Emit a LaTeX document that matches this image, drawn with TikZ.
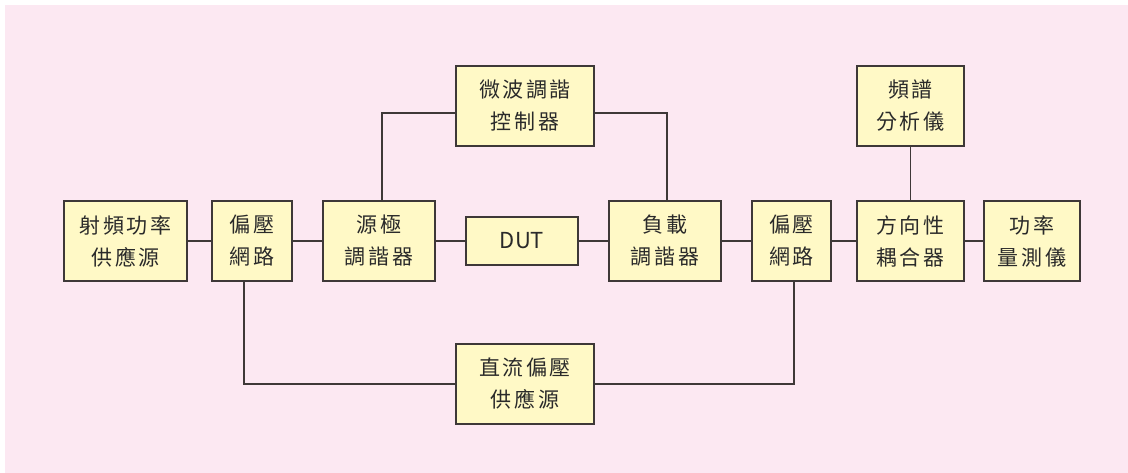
\documentclass[tikz,border=0pt]{standalone}
\usepackage{fontspec}
\newfontfamily\cjk[LetterSpace=12]{Noto Sans CJK TC}
\newfontfamily\cjklat{Noto Sans CJK TC}
\definecolor{bgpink}{HTML}{FCE8F2}
\definecolor{boxfill}{HTML}{FFF9C6}
\definecolor{edge}{HTML}{3E3838}
\definecolor{txt}{HTML}{2A2A2A}
\tikzset{
  blk/.style={draw=edge, line width=1.4pt, fill=boxfill, rectangle, inner sep=0pt,
    minimum height=80pt, align=center, text=txt, font=\cjk\fontsize{21}{32}\selectfont},
  wire/.style={draw=edge, line width=1.4pt}
}
\begin{document}
\begin{tikzpicture}[x=1pt,y=-1pt]
\useasboundingbox (0,0) rectangle (1128,473);
\fill[white] (0,0) rectangle (1128,473);
\fill[bgpink] (5,5) rectangle (1128,473);
% nodes
\node[blk, minimum width=123pt] (rf) at (125.5,241) {射頻功率\\供應源};
\node[blk, minimum width=80pt] (b1) at (252,241) {偏壓\\網路};
\node[blk, minimum width=112pt] (src) at (379,241) {源極\\調諧器};
\node[blk, minimum width=112pt, minimum height=48pt, font=\cjklat\fontsize{22}{26}\selectfont] (dut) at (522,241) {DUT};
\node[blk, minimum width=112pt] (load) at (665,241) {負載\\調諧器};
\node[blk, minimum width=79pt] (b2) at (791.5,241) {偏壓\\網路};
\node[blk, minimum width=107pt] (coup) at (910.5,241) {方向性\\耦合器};
\node[blk, minimum width=96pt] (pm) at (1032,241) {功率\\量測儀};
\node[blk, minimum width=107pt] (sa) at (910.5,106) {頻譜\\分析儀};
\node[blk, minimum width=138pt] (mtc) at (525,106) {微波調諧\\控制器};
\node[blk, minimum width=138pt] (dc) at (525,384) {直流偏壓\\供應源};
% connectors
\draw[wire] (rf.east) -- (b1.west);
\draw[wire] (b1.east) -- (src.west);
\draw[wire] (src.east) -- (dut.west);
\draw[wire] (dut.east) -- (load.west);
\draw[wire] (load.east) -- (b2.west);
\draw[wire] (b2.east) -- (coup.west);
\draw[wire] (coup.east) -- (pm.west);
\draw[wire] (sa.south) -- (coup.north);
\coordinate (tl) at (382,113);
\coordinate (tr) at (667,113);
\draw[wire] ([yshift=-7pt]mtc.west) -- (tl) -- (tl |- src.north);
\draw[wire] ([yshift=-7pt]mtc.east) -- (tr) -- (tr |- load.north);
\coordinate (bl) at (244,384);
\coordinate (br) at (794,384);
\draw[wire] (bl |- b1.south) -- (bl) -- (dc.west);
\draw[wire] (dc.east) -- (br) -- (br |- b2.south);
\end{tikzpicture}
\end{document}
